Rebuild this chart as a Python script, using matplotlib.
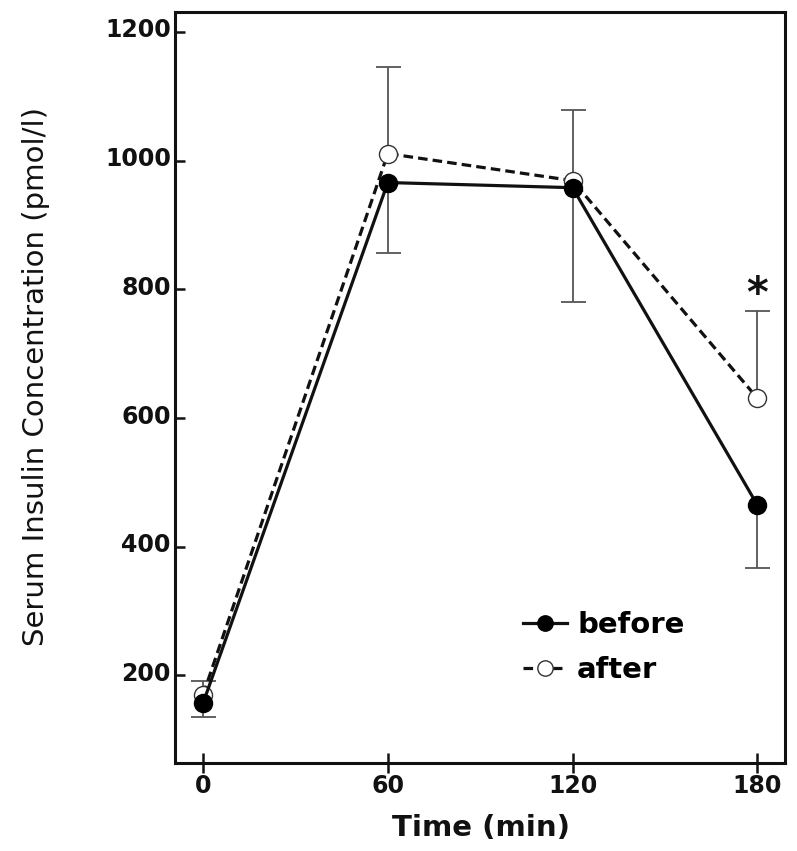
import matplotlib.pyplot as plt
import matplotlib.transforms as mtransforms

# data
time_min = [0, 60, 120, 180]
before = [157, 966, 958, 465]
after = [170, 1011, 969, 631]
before_err_low = [22, 110, 178, 98]   # only the lower bars are drawn for "before"
after_err_high = [22, 135, 110, 135]  # only the upper bars are drawn for "after"
zeros = [0, 0, 0, 0]
yticks = [200, 400, 600, 800, 1000, 1200]

fig = plt.figure(figsize=(7.97, 8.51), dpi=100)
ax = fig.add_axes([0.2196, 0.1034, 0.7654, 0.8825])

# after first so the filled markers sit on top
eb_after = ax.errorbar(time_min, after, yerr=[zeros, after_err_high], fmt='none',
                       ecolor='#555555', elinewidth=1.3, capsize=9, capthick=1.3, zorder=2)
eb_before = ax.errorbar(time_min, before, yerr=[before_err_low, zeros], fmt='none',
                        ecolor='#555555', elinewidth=1.3, capsize=9, capthick=1.3, zorder=2)
# one-sided bars: hide the caps on the zero side
eb_after[1][0].set_visible(False)
eb_before[1][1].set_visible(False)

ax.plot(time_min, after, linestyle=(0, (3, 1.6)), color='#111111', lw=2.3,
        marker='o', markersize=13, markerfacecolor='white',
        markeredgecolor='#333333', markeredgewidth=1.0, label='after', zorder=3)
ax.plot(time_min, before, linestyle='-', color='#111111', lw=2.3,
        marker='o', markersize=13, markerfacecolor='black',
        markeredgecolor='black', label='before', zorder=4)

ax.text(180, 792, '*', ha='center', va='center', fontsize=30,
        fontweight='bold', family='DejaVu Sans', color='#111111')

ax.set_xlim(-9.1, 189)
ax.set_ylim(64, 1231)
ax.set_xticks(time_min)
ax.set_yticks(yticks)

for s in ax.spines.values():
    s.set_linewidth(2.2)
    s.set_color('#111111')

ax.tick_params(axis='y', direction='in', length=7, width=1.8, pad=3,
               labelsize=17, colors='#111111')
ax.tick_params(axis='x', direction='inout', length=14, width=1.8, pad=1,
               labelsize=17, colors='#111111')
for lab in ax.get_xticklabels() + ax.get_yticklabels():
    lab.set_fontweight('bold')
    lab.set_family('DejaVu Sans')
offset = mtransforms.ScaledTranslation(0, 4 / 100, fig.dpi_scale_trans)
for lab in ax.get_yticklabels():
    lab.set_transform(lab.get_transform() + offset)

ax.set_xlabel('Time (min)', fontsize=21, fontweight='bold', family='DejaVu Sans', color='#111111')
ax.set_ylabel('Serum Insulin Concentration (pmol/l)', fontsize=21, family='DejaVu Sans', color='#111111')
ax.xaxis.set_label_coords(0.502, -0.068)
ax.yaxis.set_label_coords(-0.205, 0.515)

handles, labels = ax.get_legend_handles_labels()
leg = ax.legend(handles[::-1], labels[::-1], loc='upper left', bbox_to_anchor=(0.547, 0.222),
                frameon=False, handlelength=1.5, handletextpad=0.35, borderpad=0,
                labelspacing=0.6, numpoints=1, markerscale=0.85,
                prop={'family': 'DejaVu Sans', 'weight': 'bold', 'size': 21})

fig.savefig('out.png', dpi=100, facecolor='white')
